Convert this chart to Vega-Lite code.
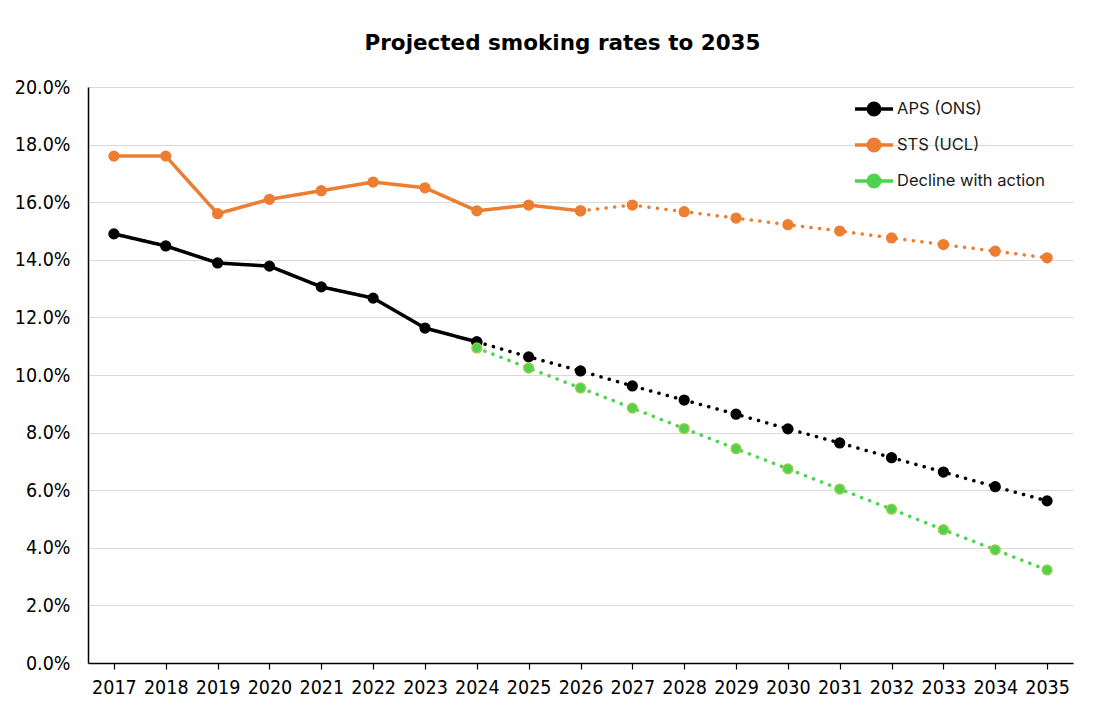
{
  "$schema": "https://vega.github.io/schema/vega-lite/v6.json",
  "width": 985,
  "height": 576,
  "autosize": {"type": "none"},
  "padding": {"left": 88, "top": 87, "right": 32, "bottom": 48},
  "background": "white",
  "title": {
    "text": "Projected smoking rates to 2035",
    "font": "DejaVu Sans",
    "fontSize": 21.5,
    "fontWeight": "bold",
    "color": "#000000",
    "anchor": "middle",
    "dx": -18,
    "offset": 23
  },
  "config": {
    "view": {"stroke": null},
    "axis": {
      "labelFont": "Liberation Sans Narrow, DejaVu Sans Condensed, sans-serif",
      "labelFontSize": 19.5,
      "labelColor": "#000000",
      "labelOverlap": false,
      "titleFont": "DejaVu Sans"
    }
  },
  "data": {
    "values": [
      {"year": "2017", "value": 0.176, "series": "STS (UCL)", "seg": "actual"},
      {"year": "2018", "value": 0.176, "series": "STS (UCL)", "seg": "actual"},
      {"year": "2019", "value": 0.156, "series": "STS (UCL)", "seg": "actual"},
      {"year": "2020", "value": 0.161, "series": "STS (UCL)", "seg": "actual"},
      {"year": "2021", "value": 0.164, "series": "STS (UCL)", "seg": "actual"},
      {"year": "2022", "value": 0.167, "series": "STS (UCL)", "seg": "actual"},
      {"year": "2023", "value": 0.165, "series": "STS (UCL)", "seg": "actual"},
      {"year": "2024", "value": 0.157, "series": "STS (UCL)", "seg": "actual"},
      {"year": "2025", "value": 0.159, "series": "STS (UCL)", "seg": "actual"},
      {"year": "2026", "value": 0.157, "series": "STS (UCL)", "seg": "actual"},
      {"year": "2026", "value": 0.157, "series": "STS (UCL)", "seg": "proj"},
      {"year": "2027", "value": 0.159, "series": "STS (UCL)", "seg": "proj"},
      {"year": "2028", "value": 0.1567, "series": "STS (UCL)", "seg": "proj"},
      {"year": "2029", "value": 0.1545, "series": "STS (UCL)", "seg": "proj"},
      {"year": "2030", "value": 0.1522, "series": "STS (UCL)", "seg": "proj"},
      {"year": "2031", "value": 0.15, "series": "STS (UCL)", "seg": "proj"},
      {"year": "2032", "value": 0.1476, "series": "STS (UCL)", "seg": "proj"},
      {"year": "2033", "value": 0.1453, "series": "STS (UCL)", "seg": "proj"},
      {"year": "2034", "value": 0.143, "series": "STS (UCL)", "seg": "proj"},
      {"year": "2035", "value": 0.1407, "series": "STS (UCL)", "seg": "proj"},
      {"year": "2017", "value": 0.149, "series": "APS (ONS)", "seg": "actual"},
      {"year": "2018", "value": 0.1448, "series": "APS (ONS)", "seg": "actual"},
      {"year": "2019", "value": 0.1389, "series": "APS (ONS)", "seg": "actual"},
      {"year": "2020", "value": 0.1378, "series": "APS (ONS)", "seg": "actual"},
      {"year": "2021", "value": 0.1306, "series": "APS (ONS)", "seg": "actual"},
      {"year": "2022", "value": 0.1267, "series": "APS (ONS)", "seg": "actual"},
      {"year": "2023", "value": 0.1163, "series": "APS (ONS)", "seg": "actual"},
      {"year": "2024", "value": 0.1115, "series": "APS (ONS)", "seg": "actual"},
      {"year": "2024", "value": 0.1115, "series": "APS (ONS)", "seg": "proj"},
      {"year": "2025", "value": 0.1063, "series": "APS (ONS)", "seg": "proj"},
      {"year": "2026", "value": 0.1014, "series": "APS (ONS)", "seg": "proj"},
      {"year": "2027", "value": 0.0962, "series": "APS (ONS)", "seg": "proj"},
      {"year": "2028", "value": 0.0913, "series": "APS (ONS)", "seg": "proj"},
      {"year": "2029", "value": 0.0864, "series": "APS (ONS)", "seg": "proj"},
      {"year": "2030", "value": 0.0813, "series": "APS (ONS)", "seg": "proj"},
      {"year": "2031", "value": 0.0764, "series": "APS (ONS)", "seg": "proj"},
      {"year": "2032", "value": 0.0713, "series": "APS (ONS)", "seg": "proj"},
      {"year": "2033", "value": 0.0663, "series": "APS (ONS)", "seg": "proj"},
      {"year": "2034", "value": 0.0612, "series": "APS (ONS)", "seg": "proj"},
      {"year": "2035", "value": 0.0563, "series": "APS (ONS)", "seg": "proj"},
      {"year": "2024", "value": 0.1094, "series": "Decline with action", "seg": "proj"},
      {"year": "2025", "value": 0.1024, "series": "Decline with action", "seg": "proj"},
      {"year": "2026", "value": 0.0955, "series": "Decline with action", "seg": "proj"},
      {"year": "2027", "value": 0.0885, "series": "Decline with action", "seg": "proj"},
      {"year": "2028", "value": 0.0814, "series": "Decline with action", "seg": "proj"},
      {"year": "2029", "value": 0.0744, "series": "Decline with action", "seg": "proj"},
      {"year": "2030", "value": 0.0674, "series": "Decline with action", "seg": "proj"},
      {"year": "2031", "value": 0.0604, "series": "Decline with action", "seg": "proj"},
      {"year": "2032", "value": 0.0534, "series": "Decline with action", "seg": "proj"},
      {"year": "2033", "value": 0.0463, "series": "Decline with action", "seg": "proj"},
      {"year": "2034", "value": 0.0393, "series": "Decline with action", "seg": "proj"},
      {"year": "2035", "value": 0.0323, "series": "Decline with action", "seg": "proj"}
    ]
  },
  "encoding": {
    "x": {
      "field": "year",
      "type": "ordinal",
      "scale": {"type": "point", "padding": 0.5},
      "axis": {
        "title": null,
        "labelAngle": 0,
        "grid": false,
        "domainColor": "#000000",
        "domainWidth": 1.5,
        "tickColor": "#000000",
        "tickSize": 6,
        "tickWidth": 1.2,
        "labelPadding": 9
      }
    },
    "y": {
      "field": "value",
      "type": "quantitative",
      "scale": {"domain": [0, 0.2], "nice": false},
      "axis": {
        "title": null,
        "format": ".1%",
        "values": [0, 0.02, 0.04, 0.06, 0.08, 0.1, 0.12, 0.14, 0.16, 0.18, 0.2],
        "ticks": false,
        "labelPadding": 18,
        "domainColor": "#000000",
        "domainWidth": 1.5,
        "gridColor": "#d9d9d9",
        "gridWidth": 1.2
      }
    },
    "color": {
      "field": "series",
      "type": "nominal",
      "scale": {
        "domain": ["APS (ONS)", "STS (UCL)", "Decline with action"],
        "range": ["#000000", "#ED7D31", "#4FD24F"]
      },
      "legend": {
        "title": null,
        "orient": "none",
        "legendX": 765,
        "legendY": 1,
        "labelFont": "Inter",
        "labelFontSize": 16.5,
        "labelColor": "#1a1a1a",
        "rowPadding": 2,
        "labelOffset": 2,
        "symbolType": "M -1 0 L -0.3 0 A 0.3 0.3 0 1 1 0.3 0 A 0.3 0.3 0 1 1 -0.3 0 M 0.3 0 L 1 0",
        "symbolSize": 1444,
        "symbolStrokeWidth": 3.5,
        "symbolDash": [],
        "symbolOpacity": 1
      }
    }
  },
  "layer": [
    {
      "mark": {"type": "line", "strokeWidth": 3.5, "strokeCap": "round", "strokeJoin": "round"},
      "encoding": {
        "strokeDash": {
          "field": "seg",
          "type": "nominal",
          "scale": {"domain": ["actual", "proj"], "range": [[1, 0], [0.1, 8.5]]},
          "legend": null
        },
        "detail": {"field": "seg"}
      }
    },
    {
      "mark": {"type": "point", "filled": true, "size": 95, "opacity": 1, "strokeWidth": 1.5},
      "encoding": {
        "stroke": {
          "field": "series",
          "type": "nominal",
          "scale": {
            "domain": ["APS (ONS)", "STS (UCL)", "Decline with action"],
            "range": ["#000000", "#ED7D31", "#9CCB4A"]
          },
          "legend": null
        }
      }
    }
  ]
}
